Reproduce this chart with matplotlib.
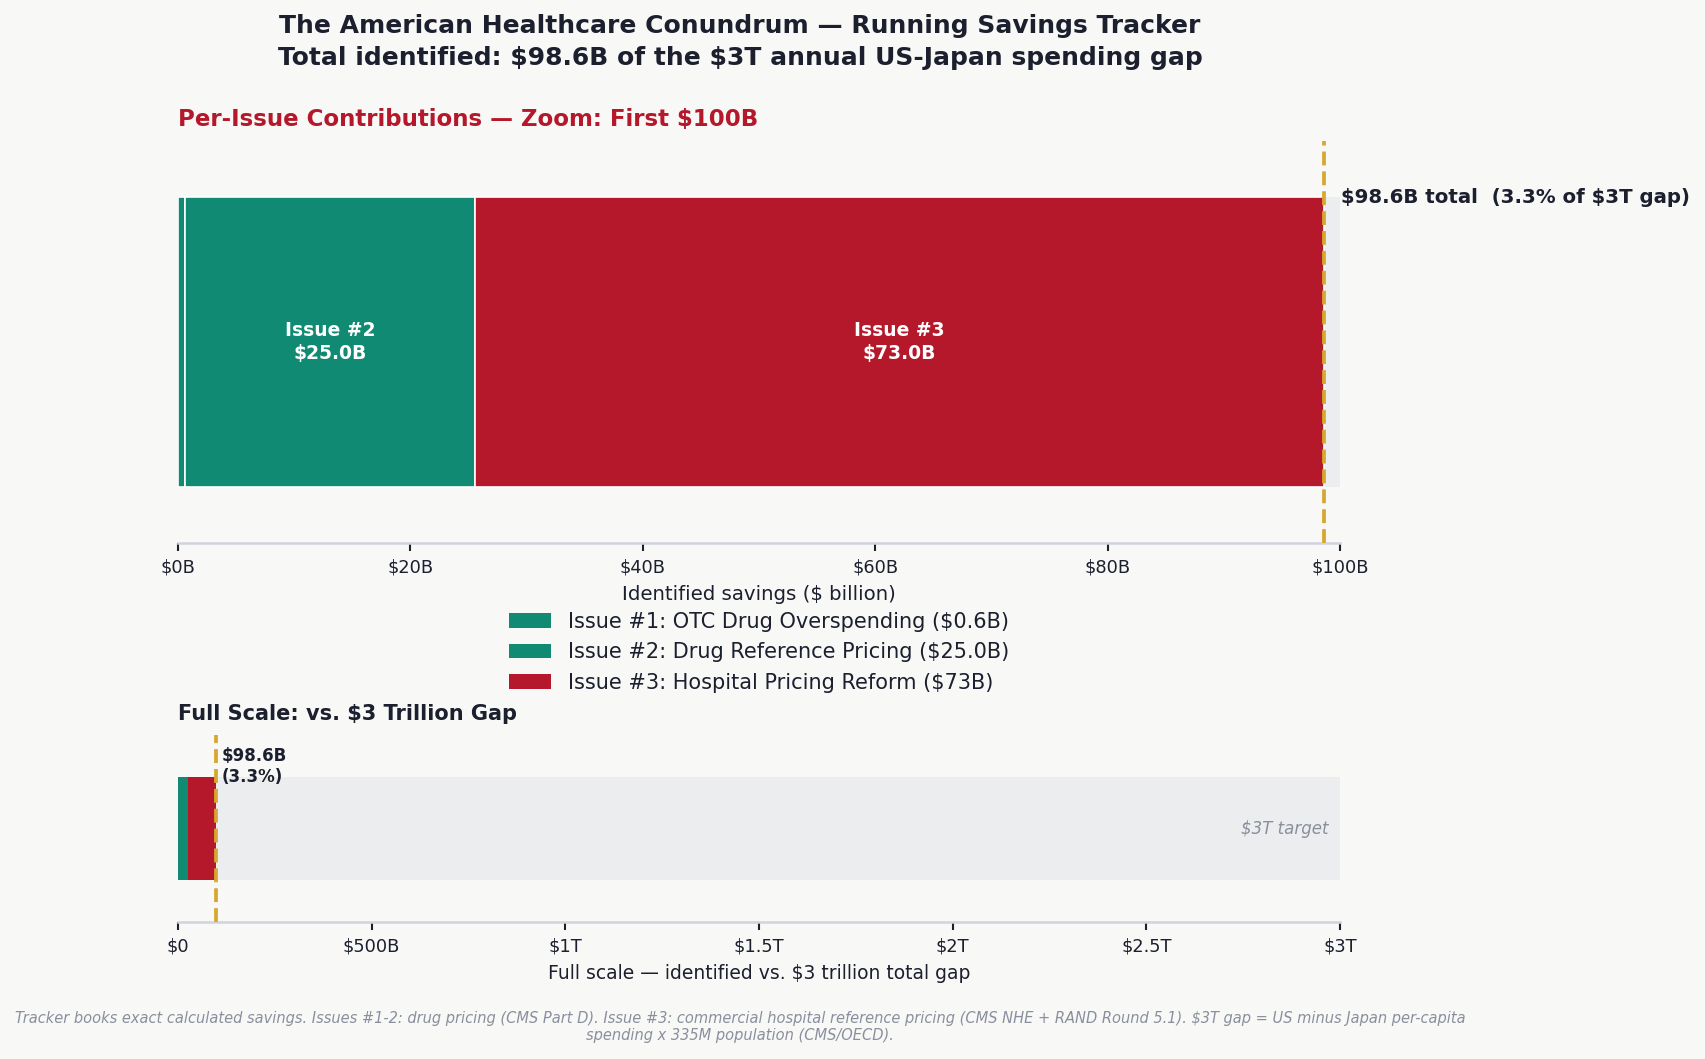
import numpy as np
import matplotlib.pyplot as plt
from matplotlib.patches import Patch

plt.rcParams["text.parse_math"] = False
plt.rcParams["font.family"] = "DejaVu Sans"

# data ($ billion)
issues = ["Issue #1", "Issue #2", "Issue #3"]
legend_labels = ["Issue #1: OTC Drug Overspending ($0.6B)",
                 "Issue #2: Drug Reference Pricing ($25.0B)",
                 "Issue #3: Hospital Pricing Reform ($73B)"]
savings = [0.6, 25.0, 73.0]
colors = ["#108A72", "#108A72", "#B5182A"]
gap = 3000.0
zoom_max = 100.0
top_ticks = [0, 20, 40, 60, 80, 100]
top_ticklabels = ["$0B", "$20B", "$40B", "$60B", "$80B", "$100B"]
full_ticks = [0, 500, 1000, 1500, 2000, 2500, 3000]
full_ticklabels = ["$0", "$500B", "$1T", "$1.5T", "$2T", "$2.5T", "$3T"]

total = sum(savings)
pct = total / gap * 100

BG = "#F8F8F6"
DARK = "#1B1F2E"
GOLD = "#D6A82E"
GRAYBAR = "#ECEDEF"
SPINE = "#D0D3DC"

fig = plt.figure(figsize=(1705 / 150, 1059 / 150), dpi=150, facecolor=BG)

def style(ax):
    ax.set_facecolor(BG)
    for s in ["top", "right", "left"]:
        ax.spines[s].set_visible(False)
    ax.spines["bottom"].set_color(SPINE)
    ax.spines["bottom"].set_linewidth(1.2)
    ax.set_yticks([])
    ax.tick_params(axis="x", colors=DARK, labelsize=8.5, length=4, width=1)
    ax.set_ylim(-0.5, 0.5)

#%% top: zoom on first $100B
ax1 = fig.add_axes([178 / 1705, 1 - 543 / 1059, 1162 / 1705, 402 / 1059])
style(ax1)
ax1.barh(0, zoom_max, height=0.72, color=GRAYBAR, zorder=1)
left = 0
for name, val, c in zip(issues, savings, colors):
    ax1.barh(0, val, left=left, height=0.72, color=c, edgecolor="white",
             linewidth=0.8, zorder=2)
    if val > 5:
        ax1.text(left + val / 2, 0, f"{name}\n${val:.1f}B", ha="center",
                 va="center", color="white", fontsize=9, fontweight="bold", zorder=3)
    left += val
ax1.axvline(total, color=GOLD, linestyle="--", linewidth=1.8, zorder=4)
ax1.text(total + 1.5, 0.36, f"${total:.1f}B total  ({pct:.1f}% of $3T gap)",
         ha="left", va="center", fontsize=9.5, fontweight="bold", color=DARK)
ax1.set_xlim(0, zoom_max)
ax1.set_xticks(top_ticks)
ax1.set_xticklabels(top_ticklabels)
ax1.set_xlabel("Identified savings ($ billion)", fontsize=9.5, color=DARK, labelpad=4)
ax1.set_title("Per-Issue Contributions \u2014 Zoom: First $100B", loc="left",
              fontsize=11, fontweight="bold", color="#B5182A", pad=7)
handles = [Patch(facecolor=c) for c in colors]
ax1.legend(handles, legend_labels, loc="upper center", bbox_to_anchor=(0.5, -0.125),
           frameon=False, fontsize=10, labelcolor=DARK)

#%% bottom: full scale
ax2 = fig.add_axes([178 / 1705, 1 - 922 / 1059, 1162 / 1705, 187 / 1059])
style(ax2)
ax2.barh(0, gap, height=0.55, color=GRAYBAR, zorder=1)
left = 0
for val, c in zip(savings, colors):
    ax2.barh(0, val, left=left, height=0.55, color=c, zorder=2)
    left += val
ax2.axvline(total, color=GOLD, linestyle="--", linewidth=1.8, zorder=4)
ax2.text(total + 15, 0.33, f"${total:.1f}B\n({pct:.1f}%)", ha="left", va="center",
         fontsize=8, fontweight="bold", color=DARK)
ax2.text(2970, 0, "$3T target", ha="right", va="center", fontsize=8,
         style="italic", color="#8A8F9E")
ax2.set_xlim(0, gap)
ax2.set_xticks(full_ticks)
ax2.set_xticklabels(full_ticklabels)
ax2.set_xlabel("Full scale \u2014 identified vs. $3 trillion total gap", fontsize=9,
               color=DARK, labelpad=4)
ax2.set_title("Full Scale: vs. $3 Trillion Gap", loc="left", fontsize=10,
              fontweight="bold", color=DARK, pad=7)

fig.text(740 / 1705, 1 - 42 / 1059,
         "The American Healthcare Conundrum \u2014 Running Savings Tracker\n"
         f"Total identified: ${total:.1f}B of the $3T annual US-Japan spending gap",
         ha="center", va="center", fontsize=12, fontweight="bold", color=DARK,
         linespacing=1.45)
fig.text(740 / 1705, 1 - 1027 / 1059,
         "Tracker books exact calculated savings. Issues #1-2: drug pricing (CMS Part D). "
         "Issue #3: commercial hospital reference pricing (CMS NHE + RAND Round 5.1). "
         "$3T gap = US minus Japan per-capita\nspending x 335M population (CMS/OECD).",
         ha="center", va="center", fontsize=7, style="italic", color="#8A8F9E")

fig.savefig("out.png", dpi=150, facecolor=BG)
